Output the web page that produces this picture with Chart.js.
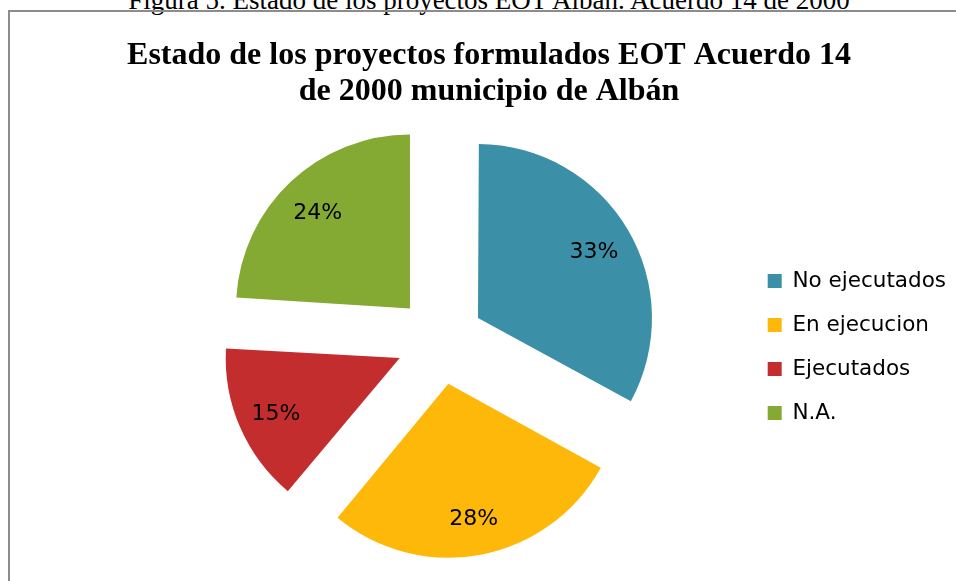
<!DOCTYPE html>
<html lang="es">
<head>
<meta charset="utf-8">
<title>Estado de los proyectos EOT Albán</title>
<script src="https://cdn.jsdelivr.net/npm/chart.js@4.4.1/dist/chart.umd.min.js"></script>
<style>
    html, body { margin: 0; padding: 0; width: 956px; height: 581px; overflow: hidden; background: #fff; }
    #leyenda-figura {
        position: absolute; left: 0; top: -13px; width: 978px;
        text-align: center; white-space: nowrap; color: #000;
        font: 27px/27px "Liberation Serif", "Times New Roman", serif;
    }
    #marco {
        position: absolute; left: 8px; top: 10px; width: 1000px; height: 1000px;
        border-left: 2px solid #8c8c8c; border-top: 2px solid #8c8c8c;
    }
    #grafico-estado { position: absolute; left: 0; top: 0; }
</style>
</head>
<body>
<div id="leyenda-figura">Figura 5. Estado de los proyectos EOT Albán. Acuerdo 14 de 2000</div>
<div id="marco"></div>
<canvas id="grafico-estado" width="956" height="581"></canvas>
<script>
// Datos del gráfico
const categorias = ['No ejecutados', 'En ejecucion', 'Ejecutados', 'N.A.'];
const porcentajes = [33, 28, 15, 24];
const colores = ['#3B90A8', '#FEB80A', '#C32D2E', '#84AA33'];
const tituloLineas = ['Estado de los proyectos formulados EOT Acuerdo 14', 'de 2000 municipio de Albán'];

// Chart.js v4 desplaza cada porción offset/4 px
const SEPARACION = 176;
const RADIO = 174;

// Corrige el radio extra que Chart.js agrega a las porciones pequeñas con offset
const radioUniforme = {
    id: 'radioUniforme',
    beforeDatasetsDraw(chart) {
        const meta = chart.getDatasetMeta(0);
        meta.data.forEach(arc => {
            const desplazamiento = (arc.options.offset || 0) / 4;
            const fix = 1 - Math.sin(Math.min(Math.PI, arc.circumference));
            arc.outerRadius = meta.controller.outerRadius - desplazamiento * fix;
        });
    }
};

// Etiquetas de porcentaje dentro de cada porción
const etiquetasPorcentaje = {
    id: 'etiquetasPorcentaje',
    afterDatasetsDraw(chart) {
        const ctx = chart.ctx;
        const meta = chart.getDatasetMeta(0);
        const total = porcentajes.reduce((a, b) => a + b, 0);
        ctx.save();
        ctx.font = '22px "DejaVu Sans"';
        ctx.fillStyle = '#000';
        ctx.textAlign = 'center';
        ctx.textBaseline = 'middle';
        meta.data.forEach((arc, i) => {
            const medio = (arc.startAngle + arc.endAngle) / 2;
            const dist = arc.options.offset / 4 + 0.775 * meta.controller.outerRadius;
            const texto = Math.round(porcentajes[i] / total * 100) + '%';
            ctx.fillText(texto, arc.x + Math.cos(medio) * dist, arc.y + Math.sin(medio) * dist + 3);
        });
        ctx.restore();
    }
};

// Título en dos líneas (centrado sobre todo el marco, no sobre el área del pastel)
const tituloGrafico = {
    id: 'tituloGrafico',
    afterDraw(chart) {
        const ctx = chart.ctx;
        ctx.save();
        ctx.font = 'bold 32px "Liberation Serif"';
        ctx.fillStyle = '#000';
        ctx.textAlign = 'center';
        ctx.textBaseline = 'alphabetic';
        tituloLineas.forEach((linea, i) => {
            ctx.fillText(linea, 489, 64 + i * 36);
        });
        ctx.restore();
    }
};

const ctx = document.getElementById('grafico-estado').getContext('2d');
const graficoEstado = new Chart(ctx, {
    type: 'pie',
    data: {
        labels: categorias,
        datasets: [{
            data: porcentajes,
            backgroundColor: colores,
            borderWidth: 0,
            offset: SEPARACION
        }]
    },
    options: {
        responsive: false,
        animation: false,
        radius: RADIO,
        layout: {
            padding: { left: 135, top: 100, right: 0, bottom: 0 }
        },
        plugins: {
            title: { display: false },
            tooltip: { enabled: false },
            legend: {
                position: 'right',
                // título vacío: solo baja un poco los elementos de la leyenda
                title: { display: true, text: '', padding: 6, font: { size: 1, lineHeight: 1 } },
                labels: {
                    boxWidth: 14,
                    boxHeight: 14,
                    padding: 22.5,
                    color: '#000',
                    font: { family: 'DejaVu Sans', size: 21.5 }
                }
            }
        }
    },
    plugins: [radioUniforme, etiquetasPorcentaje, tituloGrafico]
});
</script>
</body>
</html>
